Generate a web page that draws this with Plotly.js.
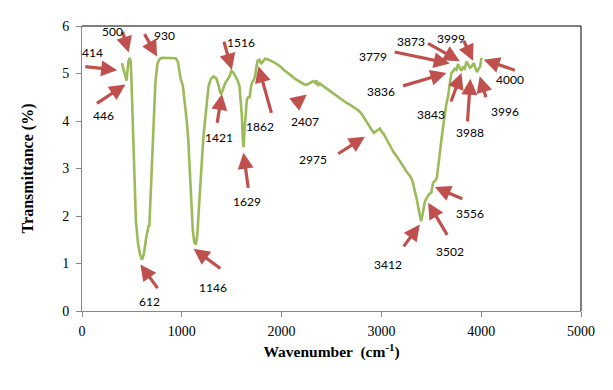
<!DOCTYPE html>
<html>
<head>
<meta charset="utf-8">
<script src="https://cdn.plot.ly/plotly-3.0.1.min.js"></script>
<style>html,body{margin:0;padding:0;background:#fff;}#chart{width:613px;height:390px;}</style>
</head>
<body>
<div id="chart"></div>
<script>
// FTIR spectrum values
const wavenumber = [400,410,418,425,435,446,455,465,478,488,495,505,515,525,540,560,580,602,620,640,655,665,675,690,705,720,735,755,775,800,850,900,940,960,975,990,1010,1030,1050,1065,1080,1095,1110,1125,1140,1155,1170,1185,1205,1220,1235,1250,1268,1290,1318,1345,1365,1385,1395,1410,1435,1460,1480,1497,1515,1535,1560,1578,1590,1602,1612,1618,1628,1640,1652,1665,1680,1692,1705,1720,1735,1748,1760,1778,1795,1808,1835,1860,1885,1920,1950,1985,2020,2060,2100,2140,2185,2220,2250,2285,2318,2340,2350,2365,2380,2400,2440,2485,2525,2568,2610,2652,2695,2735,2770,2802,2835,2868,2900,2925,2955,2985,3005,3025,3055,3085,3120,3152,3185,3218,3252,3285,3310,3335,3355,3372,3385,3398,3410,3420,3435,3455,3475,3500,3518,3540,3555,3570,3585,3602,3620,3635,3650,3668,3685,3700,3718,3735,3752,3768,3785,3802,3818,3835,3852,3870,3888,3905,3925,3945,3958,3975,3990,4002];
const transmittance = [5.22,5.15,5.05,5.01,4.95,4.85,5.05,5.25,5.33,5.25,4.9,4.2,3.4,2.6,1.9,1.45,1.2,1.08,1.2,1.5,1.72,1.78,1.8,2.6,3.4,4.2,4.8,5.2,5.3,5.33,5.33,5.33,5.32,5.25,5.05,4.87,4.75,4.4,4.0,3.6,2.9,2.2,1.7,1.45,1.40,1.6,2.2,2.7,3.3,3.75,4.05,4.45,4.73,4.88,4.94,4.9,4.78,4.6,4.57,4.65,4.80,4.88,4.95,5.06,5.02,4.95,4.85,4.73,4.45,4.1,3.6,3.45,3.8,4.15,4.45,4.5,4.5,4.7,4.82,4.86,4.95,5.15,5.27,5.29,5.2,5.24,5.31,5.3,5.28,5.24,5.2,5.15,5.08,5.02,4.95,4.88,4.82,4.78,4.76,4.8,4.84,4.80,4.85,4.74,4.79,4.76,4.70,4.63,4.56,4.49,4.44,4.38,4.33,4.27,4.22,4.15,4.05,3.93,3.82,3.75,3.80,3.84,3.77,3.72,3.6,3.47,3.35,3.26,3.14,3.05,2.93,2.85,2.75,2.56,2.35,2.15,1.98,1.89,2.0,2.15,2.3,2.38,2.45,2.5,2.7,2.75,2.8,3.05,3.35,3.62,3.9,4.17,4.35,4.52,4.8,5.0,5.05,5.1,5.08,5.2,5.12,5.06,5.13,5.1,5.25,5.18,5.12,5.15,5.22,5.1,5.03,5.1,5.15,5.33];

// Peak labels and their arrows (data coordinates)
const peakLabels = ["414","500","930","446","1516","1421","1862","2407","3779","3873","3999","4000","3836","3843","3988","3996","2975","3412","3502","3556","612","1146","1629"];
const labelX = [102,302,825,212,1595,1368,1785,2230,2918,3295,3702,4292,2995,3495,3892,4235,2318,3062,3692,3892,678,1312,1658];
const labelY = [5.44,5.88,5.79,4.12,5.66,3.65,3.89,4.00,5.36,5.68,5.74,4.87,4.63,4.14,3.76,4.19,3.19,0.98,1.26,2.05,0.21,0.49,2.30];
const tailX = [18,402,618,135,1418,1352,1902,2145,3118,3452,3818,4352,3202,3692,3862,4052,2552,3212,3668,3825,768,1402,1668];
const tailY = [5.15,5.91,5.86,4.35,5.70,3.93,4.14,4.38,5.46,5.65,5.72,5.06,4.73,4.38,3.96,4.47,3.29,1.33,1.57,2.35,0.45,0.87,2.56];
const tipX = [352,468,752,435,1502,1402,1768,2252,3685,3785,3918,4025,3652,3802,3892,3985,2835,3385,3468,3535,585,1118,1618];
const tipY = [5.07,5.44,5.36,4.77,5.08,4.57,5.15,4.56,5.21,5.26,5.27,5.29,5.01,5.01,4.89,4.94,3.67,1.82,2.28,2.61,0.98,1.31,3.33];

const xTicks = [0,1000,2000,3000,4000,5000];
const yTicks = [0,1,2,3,4,5,6];

const annotations = [];
for (let i = 0; i < peakLabels.length; i++) {
  annotations.push({
    x: tipX[i], y: tipY[i], xref: 'x', yref: 'y',
    ax: tailX[i], ay: tailY[i], axref: 'x', ayref: 'y',
    text: '', showarrow: true, arrowhead: 2, arrowsize: 1, arrowwidth: 3.2,
    arrowcolor: '#C0504D', standoff: 0, startstandoff: 0
  });
}
for (let i = 0; i < peakLabels.length; i++) {
  annotations.push({
    x: labelX[i], y: labelY[i], xref: 'x', yref: 'y',
    text: peakLabels[i], showarrow: false,
    font: {family: 'Lato, "Open Sans", sans-serif', size: 12, color: '#000'},
    xanchor: 'center', yanchor: 'middle'
  });
}

const trace = {
  x: wavenumber, y: transmittance, type: 'scatter', mode: 'lines',
  line: {color: '#9BBB59', width: 2.6, shape: 'linear'},
  hoverinfo: 'skip'
};

const axisFont = {family: '"Liberation Serif", "Times New Roman", serif', size: 14, color: '#000'};

const layout = {
  width: 613, height: 390,
  margin: {l: 81.5, r: 31.5, t: 26, b: 78.5},
  paper_bgcolor: '#fff', plot_bgcolor: '#fff',
  showlegend: false,
  xaxis: {
    range: [0, 5000], tickvals: xTicks, ticktext: xTicks.map(String),
    showgrid: false, zeroline: false, showline: true, linecolor: '#868686', linewidth: 1,
    ticks: 'outside', ticklen: 5, tickcolor: '#868686', tickwidth: 1,
    tickfont: axisFont, automargin: false, ticklabelstandoff: 2,
    title: {text: '<b>Wavenumber  (cm<sup>-1</sup>)</b>', font: {family: '"Liberation Serif", "Times New Roman", serif', size: 15.5, color: '#000'}, standoff: 8}
  },
  yaxis: {
    range: [0, 6], tickvals: yTicks, ticktext: yTicks.map(String),
    showgrid: false, zeroline: false, showline: true, linecolor: '#868686', linewidth: 1,
    ticks: 'outside', ticklen: 5, tickcolor: '#868686', tickwidth: 1,
    tickfont: axisFont, automargin: false, ticklabelstandoff: 4,
    title: {text: '<b>Transmittance (%)</b>', font: {family: '"Liberation Serif", "Times New Roman", serif', size: 16, color: '#000'}, standoff: 24}
  },
  shapes: [
    {type: 'line', xref: 'paper', yref: 'paper', x0: 0, x1: 1, y0: 1, y1: 1, line: {color: '#000', width: 1}},
    {type: 'line', xref: 'paper', yref: 'paper', x0: 1, x1: 1, y0: 0, y1: 1, line: {color: '#000', width: 1}}
  ],
  annotations: annotations
};

Plotly.newPlot('chart', [trace], layout, {staticPlot: true, displayModeBar: false});
</script>
</body>
</html>
